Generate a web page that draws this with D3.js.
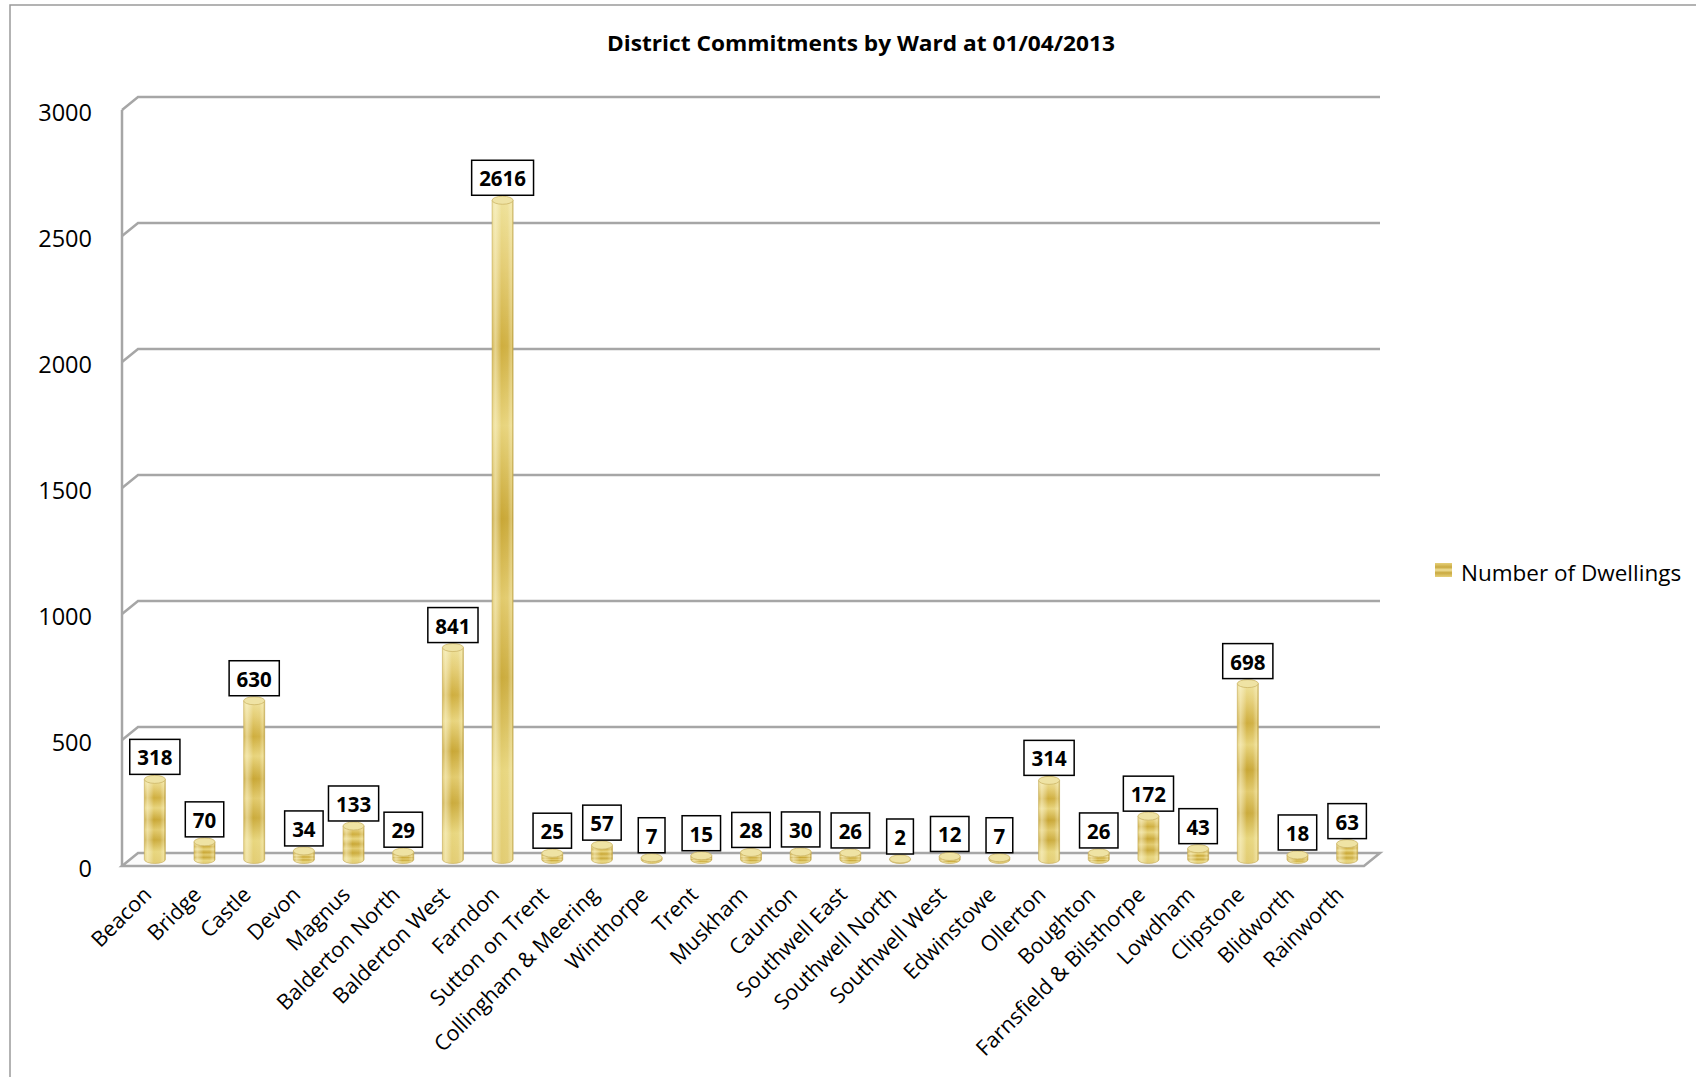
<!DOCTYPE html>
<html><head><meta charset="utf-8">
<script src="https://cdn.jsdelivr.net/npm/d3@7"></script>
<style>body{margin:0;background:#fff;}svg{display:block;}</style>
</head><body>
<script>
const categories = ["Beacon","Bridge","Castle","Devon","Magnus","Balderton North","Balderton West","Farndon","Sutton on Trent","Collingham & Meering","Winthorpe","Trent","Muskham","Caunton","Southwell East","Southwell North","Southwell West","Edwinstowe","Ollerton","Boughton","Farnsfield & Bilsthorpe","Lowdham","Clipstone","Blidworth","Rainworth"];
const dwellings = [318,70,630,34,133,29,841,2616,25,57,7,15,28,30,26,2,12,7,314,26,172,43,698,18,63];
const yTicks = [0,500,1000,1500,2000,2500,3000];
const seriesName = "Number of Dwellings";
const titleText = "District Commitments by Ward at 01/04/2013";

const W = 1696, H = 1077;
const svg = d3.select("body").append("svg").attr("width", W).attr("height", H);
const FONT = "'Open Sans', sans-serif";
const dx = 16, dy = 13;
const left = 122, right = 1364, floorY = 866;

const x = d3.scaleBand().domain(categories).range([left, right]);
const y = d3.scaleLinear().domain([0, 3000]).range([floorY, floorY - 756]);

const defs = svg.append("defs");
const vg = defs.append("linearGradient").attr("id","band").attr("x1",0).attr("y1",0).attr("x2",0).attr("y2",1);
[[0,"#efe29a"],[0.1,"#e4cd74"],[0.22,"#cfae3e"],[0.34,"#e8d47c"],[0.48,"#c9a735"],[0.6,"#e2ca6c"],[0.72,"#cbab3c"],[0.86,"#e8d67e"],[1,"#e2cc72"]]
  .forEach(([o,c]) => vg.append("stop").attr("offset",o).attr("stop-color",c));
const hg = defs.append("linearGradient").attr("id","cyl").attr("x1",0).attr("y1",0).attr("x2",1).attr("y2",0);
[[0,"#ffffff",0.1],[0.15,"#fffbe0",0.5],[0.45,"#ffffff",0],[0.75,"#ffffff",0.05],[0.92,"#fff8d0",0.4],[1,"#9a8030",0.35]]
  .forEach(([o,c,a]) => hg.append("stop").attr("offset",o).attr("stop-color",c).attr("stop-opacity",a));
const lg = defs.append("linearGradient").attr("id","leg").attr("x1",0).attr("y1",0).attr("x2",0).attr("y2",1);
[[0,"#e6d07a"],[0.3,"#c9a940"],[0.5,"#f0e19a"],[0.7,"#c9a940"],[1,"#e6d07a"]]
  .forEach(([o,c]) => lg.append("stop").attr("offset",o).attr("stop-color",c));

// outer frame (left and top edges)
svg.append("path").attr("d", `M10,${H} L10,5 L${W},5`).attr("fill","none").attr("stroke","#9a9a9a").attr("stroke-width",1.5);

// title
svg.append("text").attr("x", 861).attr("y", 51).attr("text-anchor","middle")
  .attr("font-family", FONT).attr("font-weight","bold").attr("font-size",22)
  .attr("textLength", 508).attr("lengthAdjust","spacingAndGlyphs")
  .attr("fill","#000").text(titleText);

const grid = svg.append("g").attr("stroke","#a6a6a6").attr("stroke-width",2.5).attr("fill","none");
grid.append("line").attr("x1",left).attr("x2",left).attr("y1",y(3000)).attr("y2",floorY);
yTicks.filter(t => t > 0).forEach(t => {
  const yf = y(t);
  grid.append("path").attr("d", `M${left},${yf} L${left+dx},${yf-dy} L${right+dx},${yf-dy}`);
});
grid.append("path").attr("d", `M${left},${floorY} L${left+dx},${floorY-dy} L${right+dx},${floorY-dy} L${right},${floorY} Z`)
  .attr("fill","#fbfbfb");

// y labels
svg.append("g").selectAll("text").data(yTicks).join("text")
  .attr("x", 92).attr("y", d => y(d) + 2).attr("text-anchor","end").attr("dominant-baseline","central")
  .attr("font-family", FONT).attr("font-size", 23.5).attr("fill","#000").text(d => d);

// bars
const r = 10.5, ry = 4;
const base = floorY - dy/2;
const bars = svg.append("g");
categories.forEach((c, i) => {
  const v = dwellings[i];
  const cx = x(c) + x.bandwidth()/2 + dx/2;
  const top = y(v) - dy/2;
  const g = bars.append("g");
  const d = `M${cx-r},${top} L${cx-r},${base} A${r},${ry} 0 0 0 ${cx+r},${base} L${cx+r},${top} Z`;
  g.append("path").attr("d", d).attr("fill","url(#band)");
  g.append("path").attr("d", d).attr("fill","url(#cyl)").attr("stroke","#c4aa55").attr("stroke-width",0.6);
  g.append("ellipse").attr("cx",cx).attr("cy",top).attr("rx",r).attr("ry",ry)
    .attr("fill","#efe3a4").attr("stroke","#cdb668").attr("stroke-width",0.8);

  const lbl = svg.append("g");
  const t = lbl.append("text").attr("x", cx).attr("y", top - 5 - 17)
    .attr("text-anchor","middle").attr("dominant-baseline","central")
    .attr("font-family", FONT).attr("font-weight","bold").attr("font-size",20.5).attr("fill","#000").text(v);
  const tw = t.node().getComputedTextLength();
  const bw = tw + 15;
  lbl.insert("rect","text").attr("x", cx - bw/2).attr("y", top - 5 - 35).attr("width", bw).attr("height", 35)
    .attr("fill","#fff").attr("stroke","#000").attr("stroke-width",1.5);
});

// x labels
svg.append("g").selectAll("text").data(categories).join("text")
  .attr("transform", d => `translate(${x(d) + x.bandwidth()/2 + dx/2 - 2},${floorY + 30}) rotate(-45)`)
  .attr("text-anchor","end")
  .attr("font-family", FONT).attr("font-size", 21.5).attr("fill","#000").text(d => d);

// legend
svg.append("rect").attr("x",1435).attr("y",563).attr("width",17).attr("height",14).attr("fill","url(#leg)");
svg.append("text").attr("x",1461).attr("y",572).attr("dominant-baseline","central")
  .attr("font-family", FONT).attr("font-size", 22.5).attr("fill","#000").text(seriesName);
</script>
</body></html>
